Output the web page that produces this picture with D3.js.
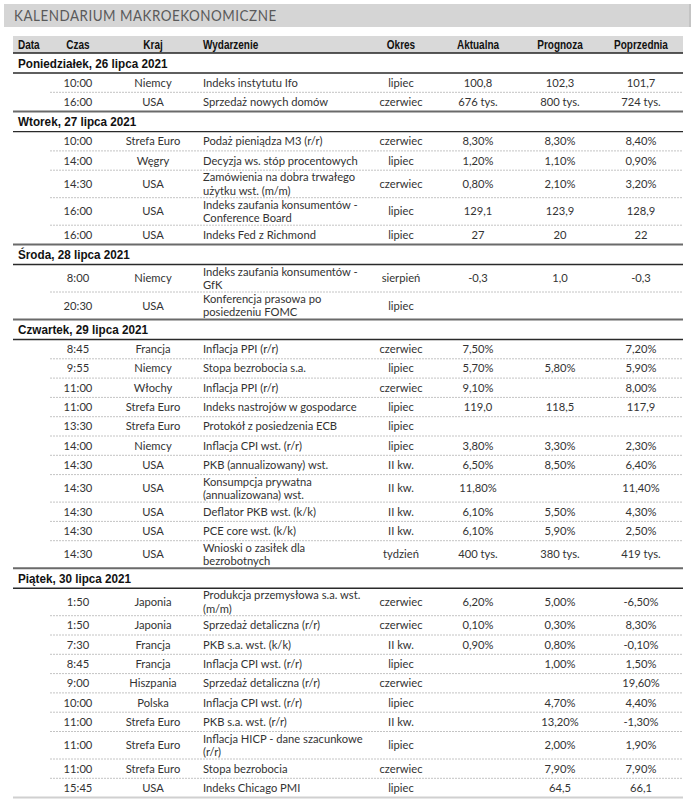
<!DOCTYPE html>
<html><head><meta charset="utf-8">
<script src="https://cdn.jsdelivr.net/npm/d3@7/dist/d3.min.js"></script>
<style>body{margin:0;background:#fff}</style>
</head><body><svg id="c" width="693" height="800"></svg>
<script>
const title = "KALENDARIUM MAKROEKONOMICZNE";
const headers = ["Data","Czas","Kraj","Wydarzenie","Okres","Aktualna","Prognoza","Poprzednia"];
const dayLabels = ["Poniedziałek, 26 lipca 2021","Wtorek, 27 lipca 2021","Środa, 28 lipca 2021","Czwartek, 29 lipca 2021","Piątek, 30 lipca 2021"];
const rowDay = [0,0, 1,1,1,1,1, 2,2, 3,3,3,3,3,3,3,3,3,3,3, 4,4,4,4,4,4,4,4,4,4];
const times = ["10:00","16:00",
  "10:00","14:00","14:30","16:00","16:00",
  "8:00","20:30",
  "8:45","9:55","11:00","11:00","13:30","14:00","14:30","14:30","14:30","14:30","14:30",
  "1:50","1:50","7:30","8:45","9:00","10:00","11:00","11:00","11:00","15:45"];
const countries = ["Niemcy","USA",
  "Strefa Euro","Węgry","USA","USA","USA",
  "Niemcy","USA",
  "Francja","Niemcy","Włochy","Strefa Euro","Strefa Euro","Niemcy","USA","USA","USA","USA","USA",
  "Japonia","Japonia","Francja","Francja","Hiszpania","Polska","Strefa Euro","Strefa Euro","Strefa Euro","USA"];
const events = ["Indeks instytutu Ifo","Sprzedaż nowych domów",
  "Podaż pieniądza M3 (r/r)","Decyzja ws. stóp procentowych","Zamówienia na dobra trwałego\nużytku wst. (m/m)","Indeks zaufania konsumentów -\nConference Board","Indeks Fed z Richmond",
  "Indeks zaufania konsumentów -\nGfK","Konferencja prasowa po\nposiedzeniu FOMC",
  "Inflacja PPI (r/r)","Stopa bezrobocia s.a.","Inflacja PPI (r/r)","Indeks nastrojów w gospodarce","Protokół z posiedzenia ECB","Inflacja CPI wst. (r/r)","PKB (annualizowany) wst.","Konsumpcja prywatna\n(annualizowana) wst.","Deflator PKB wst. (k/k)","PCE core wst. (k/k)","Wnioski o zasiłek dla\nbezrobotnych",
  "Produkcja przemysłowa s.a. wst.\n(m/m)","Sprzedaż detaliczna (r/r)","PKB s.a. wst. (k/k)","Inflacja CPI wst. (r/r)","Sprzedaż detaliczna (r/r)","Inflacja CPI wst. (r/r)","PKB s.a. wst. (r/r)","Inflacja HICP - dane szacunkowe\n(r/r)","Stopa bezrobocia","Indeks Chicago PMI"];
const periods = ["lipiec","czerwiec",
  "czerwiec","lipiec","czerwiec","lipiec","lipiec",
  "sierpień","lipiec",
  "czerwiec","lipiec","czerwiec","lipiec","lipiec","lipiec","II kw.","II kw.","II kw.","II kw.","tydzień",
  "czerwiec","czerwiec","II kw.","lipiec","czerwiec","lipiec","II kw.","lipiec","czerwiec","lipiec"];
const actual = ["100,8","676 tys.",
  "8,30%","1,20%","0,80%","129,1","27",
  "-0,3","",
  "7,50%","5,70%","9,10%","119,0","","3,80%","6,50%","11,80%","6,10%","6,10%","400 tys.",
  "6,20%","0,10%","0,90%","","","","","","",""];
const forecast = ["102,3","800 tys.",
  "8,30%","1,10%","2,10%","123,9","20",
  "1,0","",
  "","5,80%","","118,5","","3,30%","8,50%","","5,50%","5,90%","380 tys.",
  "5,00%","0,30%","0,80%","1,00%","","4,70%","13,20%","2,00%","7,90%","64,5"];
const previous = ["101,7","724 tys.",
  "8,40%","0,90%","3,20%","128,9","22",
  "-0,3","",
  "7,20%","5,90%","8,00%","117,9","","2,30%","6,40%","11,40%","4,30%","2,50%","419 tys.",
  "-6,50%","8,30%","-0,10%","1,50%","19,60%","4,40%","-1,30%","1,90%","7,90%","66,1"];

// ---- layout ----
const svg = d3.select("#c");
const L = 13, R = 683, dashL = 50;
const DAY_H = 20, ROW1 = 19.3, ROW2 = 27.5, TOP = 53;
const bodyFont = "Lato, 'Open Sans', sans-serif";
const boldFont = "'Liberation Sans', Arial, sans-serif";
const NARROW = 0.8, DAYNARROW = 0.9;

const colX = d3.scaleOrdinal().domain(headers).range([18, 78, 153, 203, 401, 478, 560, 641]);
const colAnchor = d3.scaleOrdinal().domain(headers).range(["start","middle","middle","start","middle","middle","middle","middle"]);

// title band
svg.append("rect").attr("x",4).attr("y",4).attr("width",687).attr("height",23).attr("fill","#d5d5d5");
svg.append("rect").attr("x",689).attr("y",4).attr("width",2).attr("height",23).attr("fill","#c4c4c4");
svg.append("g").attr("transform","translate(14,21) scale(0.84,1)")
  .append("text").text(title)
  .attr("font-family","Lato, sans-serif").attr("font-size",16).attr("letter-spacing",0.6)
  .attr("fill","#5a5a5a");

// header
svg.append("rect").attr("x",L).attr("y",36).attr("width",R-L).attr("height",17).attr("fill","#d9d9d9");
svg.selectAll("g.h").data(headers).join("g").attr("class","h")
  .attr("transform",d=>`translate(${colX(d)},48.5) scale(${NARROW},1)`)
  .append("text").attr("text-anchor",d=>colAnchor(d))
  .attr("font-family",boldFont).attr("font-weight","bold").attr("font-size",12.5).attr("fill","#111").text(d=>d);
svg.append("line").attr("x1",L).attr("x2",R).attr("y1",TOP).attr("y2",TOP).attr("stroke","#222").attr("stroke-width",1.5);

// compute y positions
const rows = times.map((t,i)=>({i, day:rowDay[i], time:t, country:countries[i], event:events[i].split("\n"),
  period:periods[i], act:actual[i], fc:forecast[i], prev:previous[i]}));
let units = 0;
const dayPos = [];
dayLabels.forEach((lab,d)=>{
  dayPos.push({lab, y0:units}); units += DAY_H;
  const rs = rows.filter(r=>r.day===d);
  rs.forEach((r,k)=>{ const h = r.event.length>1?ROW2:ROW1; r.y0 = units; r.h = h; r.last = k===rs.length-1; units += h; });
  dayPos[d].y1 = units;
});
const y = d3.scaleLinear().domain([0, units]).range([TOP, TOP+units]);

// day headers
const dg = svg.selectAll("g.day").data(dayPos).join("g").attr("class","day");
dg.append("g").attr("transform",d=>`translate(${colX("Data")},${y(d.y0)+DAY_H/2}) scale(${DAYNARROW},1)`)
  .append("text").attr("dy","0.36em")
  .attr("font-family",boldFont).attr("font-weight","bold").attr("font-size",13).attr("fill","#111").text(d=>d.lab);
dg.append("line").attr("x1",L).attr("x2",R).attr("y1",d=>y(d.y0)+DAY_H).attr("y2",d=>y(d.y0)+DAY_H)
  .attr("stroke","#2a2a2a").attr("stroke-width",1.4);
dg.append("line").attr("x1",L).attr("x2",R).attr("y1",d=>y(d.y1)).attr("y2",d=>y(d.y1))
  .attr("stroke",(d,i)=>i===dayPos.length-1?"#d0d0d0":"#6a6a6a").attr("stroke-width",2);

// rows
const rg = svg.selectAll("g.row").data(rows).join("g").attr("class","row");
rg.filter(r=>!r.last).append("line").attr("x1",dashL).attr("x2",R)
  .attr("y1",r=>y(r.y0+r.h)).attr("y2",r=>y(r.y0+r.h))
  .attr("stroke","#c4c4c4").attr("stroke-width",1).attr("stroke-dasharray","2,1");
const FS = 11.2;
const cells = [["Czas","time"],["Kraj","country"],["Okres","period"],["Aktualna","act"],["Prognoza","fc"],["Poprzednia","prev"]];
cells.forEach(([h,k])=>{
  rg.append("text").attr("x",colX(h)).attr("y",r=>y(r.y0)+r.h/2).attr("dy","0.36em")
    .attr("text-anchor",colAnchor(h)).attr("font-family",bodyFont).attr("font-size",FS).attr("fill","#333")
    .text(r=>r[k]);
});
rg.each(function(r){
  const g = d3.select(this);
  const lh = 13.4, n = r.event.length;
  const c = y(r.y0)+r.h/2 - (n-1)*lh/2;
  g.selectAll("text.ev").data(r.event).join("text").attr("class","ev")
    .attr("x",colX("Wydarzenie")).attr("y",(d,j)=>c+j*lh).attr("dy","0.36em")
    .attr("font-family",bodyFont).attr("font-size",FS).attr("fill","#333").text(d=>d);
});
</script></body></html>
